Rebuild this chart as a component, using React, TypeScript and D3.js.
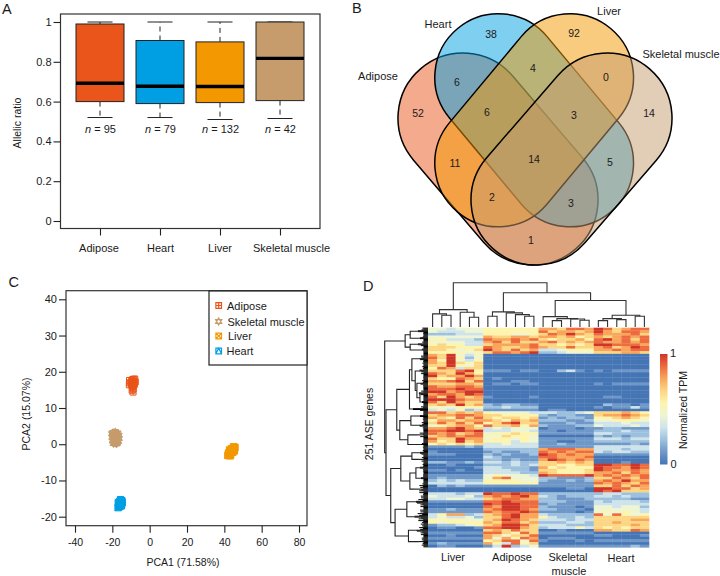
import { useEffect, useRef } from "react";
import * as d3 from "d3";

// panel A
const tissues = ["Adipose", "Heart", "Liver", "Skeletal muscle"];
const boxColors = ["#e9551a", "#009fe3", "#f39800", "#c69c6d"];
const boxQ1 = [0.6, 0.59, 0.595, 0.605];
const boxMedian = [0.692, 0.677, 0.676, 0.817];
const boxQ3 = [0.99, 0.907, 0.9, 1];
const whiskerLow = [0.52, 0.52, 0.51, 0.515];
const whiskerHigh = [1, 1, 1, 1];
const boxN = [95, 79, 132, 42];
const ratioTicks = [0, 0.2, 0.4, 0.6, 0.8, 1];

// panel B, drawn back to front
const vennSets = ["Adipose", "Heart", "Liver", "Skeletal muscle"];
const vennCounts = [38, 92, 6, 4, 0, 52, 6, 3, 14, 11, 14, 5, 2, 3, 1];

// panel C
const pcaAdiposeX = [-10.8, -10.6, -10.9, -8.0, -7.7, -8.2, -9.5, -9.0, -8.6, -9.2, -8.8, -9.4, -8.9, -9.9, -9.1, -8.4, -9.7, -8.7];
const pcaAdiposeY = [17.6, 16.9, 16.4, 18.0, 17.2, 16.5, 17.5, 16.8, 17.9, 15.9, 15.3, 14.9, 14.4, 17.2, 17.9, 17.0, 16.4, 16.2];
const pcaMuscleX = [-20.2, -19.6, -19.0, -18.4, -17.8, -17.2, -16.6, -20.0, -19.2, -18.6, -17.9, -17.3, -16.5, -19.8, -19.0, -18.2, -17.6, -16.8, -19.4, -18.5, -17.7, -18.9, -18.1, -17.4];
const pcaMuscleY = [2.9, 3.2, 3.0, 3.4, 2.9, 3.1, 2.5, 1.9, 2.3, 1.7, 2.0, 1.5, 1.6, 0.9, 1.0, 0.6, 1.1, 0.8, 0.2, 0.3, 0.1, 2.6, 1.3, 0.4];
const pcaLiverX = [41.9, 42.5, 43.1, 43.6, 44.2, 44.8, 45.3, 45.7, 42.2, 43.4, 44.5, 45.0, 43.8, 44.9, 42.8, 45.4];
const pcaLiverY = [-3.1, -2.3, -3.2, -2.1, -1.6, -1.2, -1.8, -0.9, -2.7, -2.9, -2.2, -0.7, -1.2, -1.9, -1.6, -1.3];
const pcaHeartX = [-16.9, -16.5, -16.1, -15.7, -15.3, -14.9, -14.7, -16.8, -16.0, -15.2, -15.6, -15.0];
const pcaHeartY = [-17.5, -16.8, -17.2, -16.2, -16.6, -15.6, -16.1, -16.1, -15.8, -17.0, -15.3, -16.5];
const pcaXTicks = [-40, -20, 0, 20, 40, 60, 80];
const pcaYTicks = [-20, -10, 0, 10, 20, 30, 40];

// panel D: each string is one band of three genes, Liver / Adipose / Skeletal muscle / Heart
const heatBands = [
  "443444 555555 776887 986788",
  "433344 555555 867767 976887",
  "222333 555445 687976 877786",
  "444444 766776 776756 767878",
  "553332 877878 656675 897868",
  "444433 786866 786767 877878",
  "565533 677778 665656 998887",
  "666555 876678 766866 786798",
  "665456 976867 334555 778788",
  "555544 688789 223444 666776",
  "769435 000000 000000 000000",
  "869524 000000 000000 000000",
  "759435 000000 000000 000000",
  "769656 000000 000000 000000",
  "669546 000000 000000 000000",
  "587366 000000 000000 000000",
  "666895 111011 002310 101111",
  "876975 000000 000000 000000",
  "967797 000000 000000 000000",
  "655876 010000 000000 000000",
  "778968 000110 000000 000000",
  "666776 011011 000000 101111",
  "877887 000000 000000 000000",
  "888988 000000 000000 000000",
  "997899 000000 000000 000000",
  "788798 000000 000000 000000",
  "869767 100001 000000 011000",
  "999877 000000 000000 000000",
  "869766 000000 000000 000000",
  "676967 212211 000000 021101",
  "544555 223222 000000 101131",
  "343423 111111 011000 000000",
  "886767 544443 332234 666765",
  "677887 665555 212211 677876",
  "765868 656656 121221 556765",
  "577677 765767 222112 445554",
  "686868 568966 111211 333433",
  "456775 866757 211122 433343",
  "778976 343444 011101 122111",
  "889989 333443 110111 222322",
  "878678 455655 111111 332222",
  "678788 546554 000000 212122",
  "866977 455454 111111 333233",
  "756967 555354 110011 222222",
  "565656 334333 112111 111121",
  "111121 333333 111111 333333",
  "000000 222222 788877 333233",
  "100000 121122 878788 323322",
  "111000 212112 987877 111111",
  "000000 321111 887778 000000",
  "000000 221211 798787 000000",
  "221121 332322 667676 000100",
  "001000 222323 665566 998898",
  "000001 332221 756555 988798",
  "110100 333221 665556 987787",
  "000000 333322 765556 778687",
  "111111 454443 988889 787878",
  "121111 478444 221112 668768",
  "232322 555544 211212 787977",
  "333333 555555 111111 878768",
  "021211 111111 111111 668687",
  "000000 000000 000110 998867",
  "000000 000000 000000 989666",
  "333233 988988 222222 233222",
  "433342 787897 321222 332322",
  "334433 678877 221112 222211",
  "111111 889888 222111 323332",
  "000000 989988 121111 333333",
  "000000 879988 211101 443442",
  "112111 789987 221110 444443",
  "111111 878898 111101 454543",
  "357723 678977 322222 848545",
  "343342 668977 532232 666666",
  "555544 679876 333233 666677",
  "545555 768867 222332 667666",
  "122345 679986 333222 666676",
  "011001 889976 233353 656566",
  "000000 676866 001000 776687",
  "111111 886586 111111 000000",
  "001000 764668 000000 110001",
  "111111 747587 011100 000000",
  "000000 568848 100010 111111",
  "121111 753856 000000 000000",
  "011000 139234 111111 111121",
];
const heatPalette = ["#4575b4", "#6f97c8", "#9cc0de", "#cfe3ea", "#eef5d2", "#fdf4ae", "#fcd683", "#f9a65a", "#ed6b3e", "#cf3429"];
const heatGroups = ["Liver", "Adipose", "Skeletal", "Heart"];

// sample tree over the 24 columns: [height, left, right], numbers are columns
const columnTree: any = [44,
  [17.3, [13, 0, [11.7, 1, 2]], [14.7, 3, [9.7, 4, 5]]],
  [34,
    [15, [10.7, 6, 7], [14, 8, [12.3, 9, [10.7, 10, 11]]]],
    [26.3,
      [10.3, 12, [8.3, [6.3, 13, 14], [8, 15, [6.7, 16, 17]]]],
      [11.7, [8.3, [6.3, 18, 19], [7.3, 20, 21]], [10.7, 22, 23]]]]];

// gene tree: [height, upper, lower], two numbers are [height, gene count] of a tight cluster
const geneTree: any = [43,
  [22.7, [17.7, [10, 8], [8, 8]], [17.7, [10, 6], [7, 7]]],
  [41.7,
    [31,
      [18.4,
        [16, [9, 13],
          [12.7, [9, 15],
            [11, [8, 13], [8, [9, 10], [6, 10]]]]],
        [15, 6]],
      [28, [17, [8, 10], [9, 11]], [20, [10, 11], [7, 11]]]],
    [37,
      [27, [16, [8, 8], [9, 7]], [18, [12, [8, 12], [7, 12]], [13, 13]]],
      [32.7,
        [21, [12, 16], [13.5, 18]],
        [19.4, [12, 13], [9, 13]]]]]];
// how far each gene's twig reaches inside a tight cluster
const twigReach = [1, 0.55, 0.8, 0.45, 0.95, 0.5, 0.7, 0.4];

const FONT = "'Liberation Sans', Arial, sans-serif";
const INK = "#222";

const addText = (g: any, x: number, y: number, s: string, size = 11, anchor = "middle") =>
  g.append("text")
    .attr("x", x)
    .attr("y", y)
    .attr("font-size", size)
    .attr("text-anchor", anchor)
    .attr("fill", "#1a1a1a")
    .text(s);

const styleAxis = (ax: any, size: number) => {
  ax.select(".domain").remove();
  ax.selectAll("line").attr("stroke", INK).attr("stroke-width", 1.1);
  ax.selectAll("text").attr("font-size", size).attr("font-family", FONT).attr("fill", "#1a1a1a");
};

const drawBoxes = (svg: any) => {
  const g = svg.append("g");
  const x = d3.scalePoint().domain(tissues).range([100, 280]);
  const y = d3.scaleLinear().domain([0, 1]).range([221, 22]);
  const boxW = 48;
  const capW = 25;
  const labelNudge = [-1, 0.5, 0, 11.5];

  g.append("rect")
    .attr("x", 60.5).attr("y", 14).attr("width", 259.5).attr("height", 214.5)
    .attr("fill", "none").attr("stroke", "#333").attr("stroke-width", 1.2);

  const ax = g.append("g").attr("transform", "translate(60.5,0)")
    .call(d3.axisLeft(y).tickValues(ratioTicks).tickSize(7).tickPadding(2).tickFormat(d3.format("~g") as any));
  styleAxis(ax, 11);
  const bx = g.append("g").attr("transform", "translate(0,228.5)")
    .call(d3.axisBottom(x).tickSize(7).tickFormat(() => ""));
  styleAxis(bx, 11);

  tissues.forEach((t, i) => {
    const cx = x(t)!;
    [[boxQ1[i], whiskerLow[i]], [boxQ3[i], whiskerHigh[i]]].forEach(([from, to]) => {
      g.append("line")
        .attr("x1", cx).attr("x2", cx).attr("y1", y(from)).attr("y2", y(to))
        .attr("stroke", INK).attr("stroke-dasharray", "5,4");
      g.append("line")
        .attr("x1", cx - capW / 2).attr("x2", cx + capW / 2).attr("y1", y(to)).attr("y2", y(to))
        .attr("stroke", INK);
    });
    g.append("rect")
      .attr("x", cx - boxW / 2).attr("width", boxW)
      .attr("y", y(boxQ3[i])).attr("height", y(boxQ1[i]) - y(boxQ3[i]))
      .attr("fill", boxColors[i]).attr("stroke", INK).attr("stroke-width", 1);
    g.append("line")
      .attr("x1", cx - boxW / 2).attr("x2", cx + boxW / 2).attr("y1", y(boxMedian[i])).attr("y2", y(boxMedian[i]))
      .attr("stroke", "#000").attr("stroke-width", 3.4);
    const n = addText(g, cx + 0.5, 133, "", 11);
    n.append("tspan").attr("font-style", "italic").text("n");
    n.append("tspan").text(` = ${boxN[i]}`);
    addText(g, cx + labelNudge[i], 252, t, 11);
  });

  addText(g, 0, 0, "Allelic ratio", 10.5).attr("transform", "translate(21,123) rotate(-90)");
};

const stadium = (x1: number, y1: number, x2: number, y2: number, r: number) => {
  const a = Math.atan2(y2 - y1, x2 - x1);
  const p = d3.path();
  p.moveTo(x1 + r * Math.cos(a - Math.PI / 2), y1 + r * Math.sin(a - Math.PI / 2));
  p.lineTo(x2 + r * Math.cos(a - Math.PI / 2), y2 + r * Math.sin(a - Math.PI / 2));
  p.arc(x2, y2, r, a - Math.PI / 2, a + Math.PI / 2);
  p.lineTo(x1 + r * Math.cos(a + Math.PI / 2), y1 + r * Math.sin(a + Math.PI / 2));
  p.arc(x1, y1, r, a + Math.PI / 2, a + (3 * Math.PI) / 2);
  p.closePath();
  return p.toString();
};

const drawVenn = (svg: any) => {
  const g = svg.append("g");
  const shapes = [
    { c: [463, 118, 533, 200], r: 65, fill: "#e9551a" },
    { c: [498.3, 77.3, 570, 163.3], r: 63.5, fill: "#009fe3" },
    { c: [570, 77.3, 498.3, 163.3], r: 63.5, fill: "#f39800" },
    { c: [607, 118, 536, 200], r: 65, fill: "#c69c6d" },
  ];
  shapes.forEach((s, i) => {
    g.append("path")
      .attr("data-set", vennSets[i])
      .attr("d", stadium(s.c[0], s.c[1], s.c[2], s.c[3], s.r))
      .attr("fill", s.fill).attr("fill-opacity", 0.5)
      .attr("stroke", "#000").attr("stroke-width", 1.5);
  });
  const spots = [
    [491, 34], [574, 33], [457, 82], [533, 68], [606, 77], [418, 113], [487, 112], [574, 115], [649, 113],
    [455, 163], [534, 159], [610, 162], [492, 197], [571, 203], [531, 240],
  ];
  vennCounts.forEach((v, i) => addText(g, spots[i][0], spots[i][1] + 3.5, String(v), 10.5));
  addText(g, 438, 28, "Heart", 11);
  addText(g, 609, 15, "Liver", 11);
  addText(g, 681, 58, "Skeletal muscle", 11);
  addText(g, 378, 80, "Adipose", 11);
};

// R style point glyphs
const glyph = (kind: string, s: number) => {
  const p = d3.path();
  const square = () => p.rect(-s, -s, 2 * s, 2 * s);
  if (kind === "Adipose") {
    square();
    p.moveTo(-s, 0); p.lineTo(s, 0);
    p.moveTo(0, -s); p.lineTo(0, s);
  } else if (kind === "Skeletal muscle") {
    p.moveTo(0, -s * 1.25); p.lineTo(s * 1.1, s * 0.65); p.lineTo(-s * 1.1, s * 0.65); p.closePath();
    p.moveTo(0, s * 1.25); p.lineTo(s * 1.1, -s * 0.65); p.lineTo(-s * 1.1, -s * 0.65); p.closePath();
  } else if (kind === "Liver") {
    square();
    p.moveTo(-s, -s); p.lineTo(s, s);
    p.moveTo(-s, s); p.lineTo(s, -s);
  } else {
    square();
    p.moveTo(-s, s); p.lineTo(0, -s); p.lineTo(s, s);
  }
  return p.toString();
};

const drawPca = (svg: any) => {
  const g = svg.append("g");
  const x = d3.scaleLinear().domain([-40, 80]).range([75, 299]);
  const y = d3.scaleLinear().domain([-20, 40]).range([516.7, 299.3]);

  const groups = [
    { name: "Heart", xs: pcaHeartX, ys: pcaHeartY, color: "#009fe3", s: 3.2, fill: "#009fe3" },
    { name: "Liver", xs: pcaLiverX, ys: pcaLiverY, color: "#f39800", s: 3.2, fill: "#f39800" },
    { name: "Skeletal muscle", xs: pcaMuscleX, ys: pcaMuscleY, color: "#c69c6d", s: 3.2, fill: "#c69c6d" },
    { name: "Adipose", xs: pcaAdiposeX, ys: pcaAdiposeY, color: "#e9551a", s: 3, fill: "none" },
  ];
  groups.forEach(gr => {
    g.append("g").selectAll("path")
      .data(gr.xs.map((v, i) => [v, gr.ys[i]]))
      .join("path")
      .attr("d", glyph(gr.name, gr.s))
      .attr("transform", (d: number[]) => `translate(${x(d[0])},${y(d[1])})`)
      .attr("fill", gr.fill)
      .attr("stroke", gr.color)
      .attr("stroke-width", 1);
  });

  g.append("rect")
    .attr("x", 66).attr("y", 290.7).attr("width", 241).attr("height", 235)
    .attr("fill", "none").attr("stroke", "#333").attr("stroke-width", 1.2);

  const ax = g.append("g").attr("transform", "translate(66,0)")
    .call(d3.axisLeft(y).tickValues(pcaYTicks).tickSize(7).tickPadding(2));
  styleAxis(ax, 11);
  const bx = g.append("g").attr("transform", "translate(0,525.7)")
    .call(d3.axisBottom(x).tickValues(pcaXTicks).tickSize(7).tickPadding(6));
  styleAxis(bx, 10.5);
  g.selectAll(".tick text").text((d: number) => String(d).replace("−", "-"));

  addText(g, 183, 566, "PCA1 (71.58%)", 10.5);
  addText(g, 0, 0, "PCA2 (15.07%)", 10.5).attr("transform", "translate(30,414) rotate(-90)");

  // legend
  g.append("rect")
    .attr("x", 209).attr("y", 291).attr("width", 98).attr("height", 74)
    .attr("fill", "#fff").attr("stroke", "#222").attr("stroke-width", 1.2);
  const legendRows = [
    { name: "Adipose", color: "#e9551a", y: 305.5, tx: 227 },
    { name: "Skeletal muscle", color: "#c69c6d", y: 321.5, tx: 227.5 },
    { name: "Liver", color: "#f39800", y: 336, tx: 228 },
    { name: "Heart", color: "#009fe3", y: 351, tx: 226.5 },
  ];
  legendRows.forEach(r => {
    g.append("path")
      .attr("d", glyph(r.name, 2.8))
      .attr("transform", `translate(218.7,${r.y})`)
      .attr("fill", "none").attr("stroke", r.color).attr("stroke-width", 1.2);
    addText(g, r.tx, r.y + 4, r.name, 11, "start");
  });
};

const drawHeatmap = (svg: any) => {
  const g = svg.append("g");
  const left = 428;
  const right = 649;
  const top = 327.7;
  const bottom = 547.3;
  const x = d3.scaleBand<number>().domain(d3.range(24)).range([left, right]);
  const y = d3.scaleBand<number>().domain(d3.range(heatBands.length)).range([top, bottom]);
  const color = d3.scaleOrdinal<number, string>().domain(d3.range(10)).range(heatPalette);

  const cells = heatBands.flatMap((row, r) =>
    row.replace(/ /g, "").split("").map((c, k) => ({ r, k, v: +c })),
  );
  g.append("g").selectAll("rect")
    .data(cells)
    .join("rect")
    .attr("x", (d: any) => x(d.k)!)
    .attr("y", (d: any) => y(d.r)!)
    .attr("width", x.bandwidth() + 0.3)
    .attr("height", y.bandwidth() + 0.3)
    .attr("fill", (d: any) => color(d.v));

  // column dendrogram
  const depth = d3.scaleLinear().domain([0, 44]).range([327, 282.7]);
  const root = d3.hierarchy<any>(columnTree, d => (Array.isArray(d) ? d.slice(1) : null));
  const top_ = g.append("g").attr("fill", "none").attr("stroke", "#333").attr("stroke-width", 1.1);
  root.eachAfter((n: any) => {
    if (n.children) {
      n.px = d3.mean(n.children, (c: any) => c.px);
      n.py = depth(n.data[0]);
      const [a, b] = n.children;
      top_.append("path").attr("d", `M${a.px},${a.py}V${n.py}H${b.px}V${b.py}`);
    } else {
      n.px = x(n.data)! + x.bandwidth() / 2;
      n.py = depth(0);
    }
  });

  // gene dendrogram
  const rowY = d3.scaleLinear().domain([0, 251]).range([top, bottom]);
  const reach = d3.scaleLinear().domain([0, 43]).range([left, 384.7]);
  const side = g.append("g").attr("fill", "none").attr("stroke", "#000");
  let nextRow = 0;
  const walk = (node: any): number[] => {
    if (node.length === 2) {
      const [h, count] = node;
      const mid = nextRow + count / 2;
      for (let k = 0; k < count; k++) {
        const rowPos = nextRow + k + 0.5;
        const wedge = 1 - (0.5 * Math.abs(rowPos - mid)) / (count / 2);
        const isStem = Math.abs(rowPos - mid) < 0.6;
        const twig = isStem ? h : Math.max(4.5, h * wedge * twigReach[(nextRow + k) % twigReach.length]);
        side.append("line")
          .attr("x1", left)
          .attr("x2", reach(twig))
          .attr("y1", rowY(rowPos)).attr("y2", rowY(rowPos))
          .attr("stroke-width", 1);
      }
      nextRow += count;
      return [reach(h), rowY(mid)];
    }
    const [h, upper, lower] = node;
    const a = walk(upper);
    const b = walk(lower);
    const nx = reach(h);
    side.append("path")
      .attr("stroke-width", 1.1)
      .attr("stroke", "#222")
      .attr("d", `M${a[0]},${a[1]}H${nx}V${b[1]}H${b[0]}`);
    return [nx, (a[1] + b[1]) / 2];
  };
  walk(geneTree);

  // colour bar
  const defs = svg.append("defs");
  const grad = defs.append("linearGradient")
    .attr("id", "tpm").attr("x1", 0).attr("x2", 0).attr("y1", 1).attr("y2", 0);
  heatPalette.forEach((c, i) => {
    grad.append("stop").attr("offset", i / (heatPalette.length - 1)).attr("stop-color", c);
  });
  g.append("rect")
    .attr("x", 660).attr("y", 354).attr("width", 7.5).attr("height", 110.5)
    .attr("fill", "url(#tpm)");
  addText(g, 673, 357, "1", 11);
  addText(g, 673.5, 467.5, "0", 11);
  addText(g, 0, 0, "Normalized TPM", 10.5).attr("transform", "translate(687,410) rotate(-90)");
  addText(g, 0, 0, "251 ASE genes", 10.5).attr("transform", "translate(373,424) rotate(-90)");

  const nudge = [453, 512, 568, 621];
  heatGroups.forEach((t, i) => addText(g, nudge[i], i === 3 ? 562 : 561, t, 11));
  addText(g, 569, 575, "muscle", 11);
};

const App = () => {
  const ref = useRef<SVGSVGElement | null>(null);

  useEffect(() => {
    if (!ref.current) return;
    const svg = d3.select(ref.current);
    svg.selectAll("*").remove();
    svg.attr("font-family", FONT);

    drawBoxes(svg);
    drawVenn(svg);
    drawPca(svg);
    drawHeatmap(svg);

    addText(svg, 2, 14, "A", 14.5, "start");
    addText(svg, 352, 12.5, "B", 14.5, "start");
    addText(svg, 8.5, 287, "C", 14.5, "start");
    addText(svg, 363, 291, "D", 14.5, "start");
  }, []);

  return (
    <svg
      ref={ref}
      width={720}
      height={576}
      style={{ position: "absolute", left: 0, top: 0, display: "block", background: "#fff" }}
    />
  );
};

export default App;
